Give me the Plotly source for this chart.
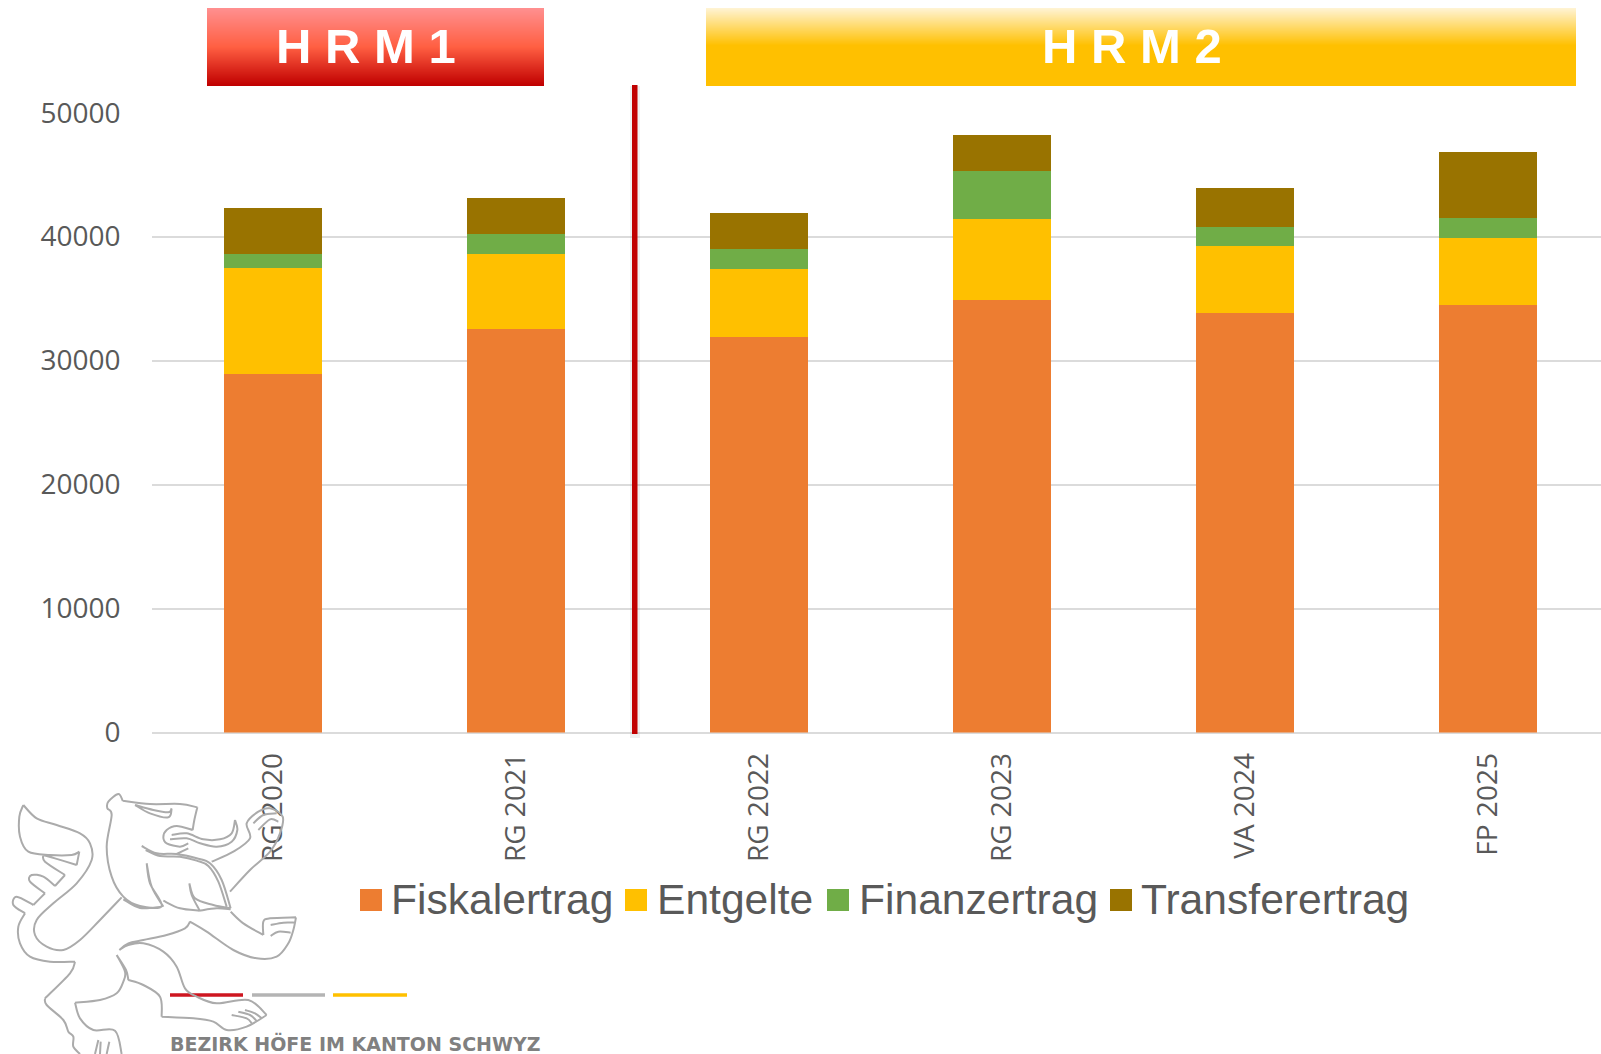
import plotly.graph_objects as go

W, H = 1601, 1054

categories = ["RG 2020", "RG 2021", "RG 2022", "RG 2023", "VA 2024", "FP 2025"]
fiskalertrag = [28900, 32550, 31890, 34880, 33830, 34450]
entgelte = [8550, 6025, 5495, 6520, 5390, 5440]
finanzertrag = [1180, 1615, 1590, 3880, 1590, 1590]
transferertrag = [3710, 2900, 2915, 2910, 3100, 5340]
y_ticks = [0, 10000, 20000, 30000, 40000, 50000]

series_names = ["Fiskalertrag", "Entgelte", "Finanzertrag", "Transferertrag"]
series_values = [fiskalertrag, entgelte, finanzertrag, transferertrag]
series_colors = ["#ED7D31", "#FFC000", "#70AD47", "#997300"]

TEXT = "#595959"
GRID = "#DBDBDB"


def px(x):
    return x / W


def py(y):
    return 1 - y / H


def hex2rgb(c):
    return [int(c[i:i + 2], 16) for i in (1, 3, 5)]


def gradient(stops, t):
    for (t0, c0), (t1, c1) in zip(stops, stops[1:]):
        if t <= t1:
            f = (t - t0) / (t1 - t0)
            a, b = hex2rgb(c0), hex2rgb(c1)
            return "rgb(%d,%d,%d)" % tuple(round(a[i] + (b[i] - a[i]) * f) for i in range(3))
    return stops[-1][1]


def rect(x0, y0, x1, y1, color):
    return dict(type="rect", xref="paper", yref="paper", x0=px(x0), x1=px(x1), y0=py(y0), y1=py(y1),
                fillcolor=color, line=dict(width=0), layer="above")


shapes = []

# banner gradients
banners = [
    (207, 544, [(0, "#FF8F8F"), (0.5, "#FF5F42"), (1, "#C00000")]),
    (706, 1576, [(0, "#FFF3D2"), (0.48, "#FFC000"), (1, "#FFC000")]),
]
for x0, x1, stops in banners:
    for row in range(8, 86):
        shapes.append(rect(x0, row, x1, row + 1, gradient(stops, (row - 8) / 77)))

# divider with soft shadow
shapes.append(rect(630, 86, 640, 738, "rgba(120,120,120,0.12)"))
shapes.append(rect(632, 85, 637.5, 734, "#C00000"))

# logo rules
shapes.append(rect(170, 993.3, 243, 996.8, "#CE1620"))
shapes.append(rect(252, 993.3, 325, 996.8, "#B4B4B4"))
shapes.append(rect(333, 993.3, 407, 996.8, "#FFC000"))

# heraldic lion line art, traced in a 3x crop whose origin is (0, 780)
lion_strokes = [
    # head, ear and back of the mane
    [(440, 250), (450, 310), (485, 378), (420, 378), (370, 350), (335, 290), (320, 200), (335, 105), (322, 85), (325, 65), (355, 42), (368, 62)],
    [(368, 62), (450, 72), (540, 72), (592, 82)],
    [(592, 82), (583, 120), (578, 150)],
    # mouth
    [(578, 150), (530, 138), (500, 150), (490, 172), (500, 190), (540, 200), (565, 190)],
    [(515, 165), (560, 160), (610, 178), (660, 178), (695, 160), (705, 120)],
    [(705, 120), (712, 150), (695, 185), (650, 200), (600, 190), (560, 175), (510, 178)],
    # jaw and mane front, doubled
    [(425, 198), (470, 220), (530, 222), (590, 235), (630, 250), (665, 300), (692, 385)],
    [(437, 210), (480, 228), (540, 230), (590, 242), (625, 258), (655, 305), (680, 380)],
    [(565, 205), (530, 222)],
    # mane zigzag
    [(440, 250), (455, 320), (490, 380)],
    [(490, 362), (540, 385), (598, 392)],
    [(568, 310), (575, 345), (598, 390)],
    [(568, 310), (585, 355), (640, 375), (692, 385)],
    [(598, 392), (650, 385), (692, 388)],
    [(370, 358), (420, 384), (485, 380)],
    # brow
    [(405, 75), (450, 100), (505, 112), (515, 85)],
    [(515, 85), (505, 97), (460, 90), (405, 75)],
    # raised arm and hand
    [(635, 245), (700, 215), (750, 175), (740, 130), (775, 95), (810, 85), (848, 110), (840, 160), (810, 215), (750, 270), (690, 335)],
    [(760, 130), (790, 105), (830, 100)],
    [(775, 150), (810, 118), (835, 125)],
    # lower arm and hand
    [(692, 395), (730, 430), (790, 465)],
    [(790, 465), (790, 425), (810, 415), (888, 412)],
    [(888, 412), (880, 450), (865, 490), (830, 530), (770, 535), (700, 510), (620, 455), (570, 425)],
    [(570, 425), (555, 445), (500, 465), (430, 480), (385, 490), (358, 510)],
    [(812, 435), (850, 428), (885, 428)],
    [(812, 468), (835, 455), (872, 458)],
    # back and tail
    [(365, 352), (300, 420), (240, 480), (190, 510), (140, 500), (105, 465), (110, 420), (160, 370), (230, 310), (275, 240), (270, 190), (240, 160), (170, 135), (110, 115), (70, 75)],
    [(70, 75), (58, 110), (60, 170), (85, 215), (150, 225), (215, 225), (238, 215)],
    [(238, 215), (230, 255)],
    [(230, 255), (165, 235), (130, 225)],
    [(130, 225), (135, 245), (195, 285)],
    [(195, 285), (165, 318)],
    [(165, 318), (130, 290), (95, 285), (90, 305), (135, 340)],
    [(135, 340), (100, 375)],
    [(100, 375), (50, 350), (40, 375), (75, 400)],
    [(75, 400), (55, 440), (60, 490), (90, 530), (150, 545), (225, 545)],
    # rear leg
    [(225, 545), (210, 580), (135, 655)],
    [(135, 655), (140, 675), (190, 720), (205, 755), (220, 770), (220, 800), (240, 822)],
    [(225, 668), (300, 660), (350, 640), (370, 605), (375, 575), (350, 525)],
    [(350, 525), (378, 570), (385, 600)],
    [(385, 600), (430, 615), (480, 650), (485, 710)],
    [(485, 710), (580, 715), (640, 725), (680, 750), (740, 740), (800, 705)],
    [(800, 705), (745, 660), (650, 670), (590, 650), (555, 625), (530, 560), (490, 515), (430, 490), (385, 495), (358, 510)],
    [(695, 705), (740, 715), (755, 730)],
    [(715, 695), (750, 705), (772, 725)],
    [(735, 690), (765, 700), (785, 715)],
    [(225, 668), (240, 715), (280, 750), (345, 752), (365, 822)],
    [(285, 822), (295, 780)],
    [(300, 822), (302, 785)],
    [(320, 822), (328, 785)],
]


def lion_xy(p):
    return "%.5f,%.5f" % (px(p[0] / 3), py(780 + p[1] / 3))


def smooth(points):
    # Catmull-Rom through the traced points
    out = ["M" + lion_xy(points[0])]
    n = len(points)
    for i in range(n - 1):
        p0 = points[max(i - 1, 0)]
        p1 = points[i]
        p2 = points[i + 1]
        p3 = points[min(i + 2, n - 1)]
        c1 = (p1[0] + (p2[0] - p0[0]) / 6, p1[1] + (p2[1] - p0[1]) / 6)
        c2 = (p2[0] - (p3[0] - p1[0]) / 6, p2[1] - (p3[1] - p1[1]) / 6)
        out.append("C" + lion_xy(c1) + " " + lion_xy(c2) + " " + lion_xy(p2))
    return "".join(out)


shapes.append(dict(type="path", xref="paper", yref="paper", layer="above",
                   path="".join(smooth(s) for s in lion_strokes),
                   line=dict(color="#ABABAB", width=2), fillcolor="rgba(0,0,0,0)"))

annotations = [
    dict(text="H R M 1", x=px(366), y=py(45.7), font=dict(family="Liberation Sans", size=49, color="white", weight="bold")),
    dict(text="H R M 2", x=px(1132), y=py(45.7), font=dict(family="Liberation Sans", size=49, color="white", weight="bold")),
    dict(text="BEZIRK HÖFE IM KANTON SCHWYZ", x=px(354.5), y=py(1043), font=dict(family="DejaVu Sans", size=19, color="#808080", weight="bold")),
]

# legend row
legend_swatch_x = [360, 625, 827, 1110]
legend_text_x = [389, 655, 857, 1139]
for name, color, sx, tx in zip(series_names, series_colors, legend_swatch_x, legend_text_x):
    shapes.append(rect(sx, 889, sx + 22, 911, color))
    annotations.append(dict(text=name, x=px(tx), y=py(899), xanchor="left",
                            font=dict(family="Liberation Sans", size=42.6, color=TEXT)))

for a in annotations:
    a.update(xref="paper", yref="paper", showarrow=False, yanchor="middle")
    a.setdefault("xanchor", "center")

fig = go.Figure()
for name, values, color in zip(series_names, series_values, series_colors):
    fig.add_trace(go.Bar(name=name, x=categories, y=values, marker=dict(color=color, line=dict(width=0)), width=0.4))

fig.update_layout(
    width=W, height=H, barmode="stack", showlegend=False,
    margin=dict(l=0, r=0, t=0, b=0), paper_bgcolor="white", plot_bgcolor="white",
    shapes=shapes, annotations=annotations,
    xaxis=dict(domain=[px(151.5), 1], range=[-0.5, 5.465], type="category", tickangle=-90,
               tickfont=dict(family="Open Sans", size=28, color=TEXT), showgrid=False,
               showline=False, ticks="", ticklabelstandoff=14, automargin=False),
    yaxis=dict(domain=[py(732.5), py(112.7)], range=[0, 50000], tickvals=y_ticks, tickformat="d",
               tickfont=dict(family="Open Sans", size=28, color=TEXT), gridcolor=GRID, gridwidth=2,
               zeroline=True, zerolinecolor=GRID, zerolinewidth=2, showline=False, ticks="",
               ticklabelstandoff=30, automargin=False),
)

fig.write_html("out.html", config=dict(displayModeBar=False),
               post_script="document.body.style.margin='0';document.body.style.overflow='hidden';")
